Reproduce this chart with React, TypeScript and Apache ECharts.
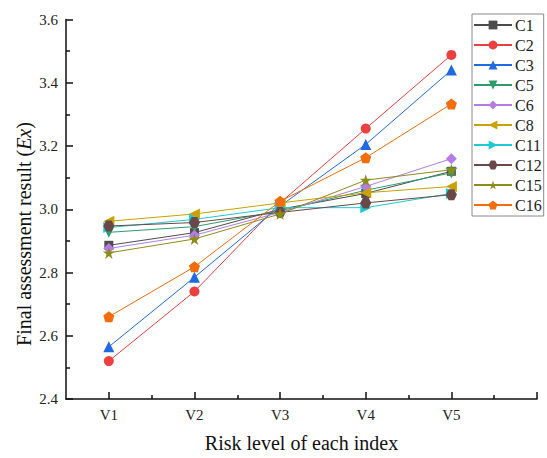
import React, { useEffect, useRef } from "react";
import * as echarts from "echarts";

const levels = ["V1", "V2", "V3", "V4", "V5"];
const seriesNames = ["C1", "C2", "C3", "C5", "C6", "C8", "C11", "C12", "C15", "C16"];

const c1 = [2.886, 2.926, 3.0, 3.05, 3.12];
const c2 = [2.52, 2.74, 3.02, 3.255, 3.488];
const c3 = [2.565, 2.785, 3.01, 3.205, 3.44];
const c5 = [2.927, 2.945, 2.995, 3.06, 3.115];
const c6 = [2.876, 2.918, 2.99, 3.072, 3.16];
const c8 = [2.962, 2.985, 3.02, 3.052, 3.072];
const c11 = [2.942, 2.968, 3.005, 3.005, 3.05];
const c12 = [2.947, 2.958, 2.99, 3.02, 3.046];
const c15 = [2.862, 2.906, 2.985, 3.092, 3.125];
const c16 = [2.66, 2.818, 3.025, 3.163, 3.333];

const values = [c1, c2, c3, c5, c6, c8, c11, c12, c15, c16];

const colors = ["#4d4d4d", "#ec3f3f", "#1f6ae0", "#2a9d6a", "#b57ce6", "#c9a100", "#1ccbd6", "#6b4848", "#8c8c1a", "#f36d0c"];

const yTicks = [2.4, 2.6, 2.8, 3.0, 3.2, 3.4, 3.6];

const PENT = "path://M0,-1L0.951,-0.309L0.588,0.809L-0.588,0.809L-0.951,-0.309Z";
const HEX = "path://M-0.5,-0.866L0.5,-0.866L1,0L0.5,0.866L-0.5,0.866L-1,0Z";
const STAR =
  "path://M0,-1L0.2245,-0.309L0.951,-0.309L0.363,0.118L0.588,0.809L0,0.382L-0.588,0.809L-0.363,0.118L-0.951,-0.309L-0.2245,-0.309Z";

const symbols = ["rect", "circle", "triangle", "triangle", "diamond", "triangle", "triangle", HEX, STAR, PENT];
const rotations = [0, 0, 0, 180, 0, 90, -90, 0, 0, 0];
const sizes = [9, 10, 11, 11, 11, 11, 11, 11, 12, 11];

const FONT = "Liberation Serif";

export default function App() {
  const ref = useRef<HTMLDivElement>(null);
  useEffect(() => {
    if (!ref.current) return;
    const chart = echarts.init(ref.current, undefined, { renderer: "svg" });
    const series = seriesNames.map((name, i) => ({
      name,
      type: "line",
      xAxisIndex: 0,
      yAxisIndex: 0,
      data: values[i].map((v, j) => [j + 1, v]),
      symbol: symbols[i],
      symbolRotate: rotations[i],
      symbolSize: sizes[i],
      showAllSymbol: true,
      lineStyle: { color: colors[i], width: 1 },
      itemStyle: { color: colors[i], borderWidth: 0 },
      emphasis: { disabled: true },
      z: 2 + i,
    }));
    chart.setOption({
      animation: false,
      grid: { left: 66, right: 10, top: 19.5, bottom: 58, containLabel: false },
      legend: {
        orient: "vertical",
        left: 472,
        top: 14,
        data: seriesNames,
        borderColor: "#8a8a8a",
        borderWidth: 1,
        padding: [3, 2, 3, 1],
        itemGap: 4,
        itemWidth: 38,
        itemHeight: 11,
        textStyle: { fontFamily: FONT, fontSize: 16, color: "#222", padding: [0, 0, 0, -2] },
      },
      graphic: [
        {
          type: "text",
          x: 24,
          y: 234,
          rotation: Math.PI / 2,
          style: {
            text: "{t|Final assessment result (}{i|Ex}{t|)}",
            align: "center",
            verticalAlign: "middle",
            fontFamily: FONT,
            fontSize: 20,
            fill: "#111",
            rich: {
              t: { fontFamily: FONT, fontSize: 20, fill: "#111", color: "#111" },
              i: { fontFamily: FONT, fontSize: 20, fontStyle: "italic", fill: "#111", color: "#111" },
            },
          },
        },
      ],
      xAxis: [
        {
          type: "value",
          min: 0.5,
          max: 6,
          position: "bottom",
          splitLine: { show: false },
          axisLine: { show: true, lineStyle: { color: "#111", width: 1.5 } },
          axisTick: {
            show: true,
            inside: true,
            length: 7,
            customValues: [1, 2, 3, 4, 5, 6],
            lineStyle: { color: "#111", width: 1.5 },
          },
          axisLabel: {
            customValues: [1, 2, 3, 4, 5],
            formatter: (v: number) => levels[Math.round(v) - 1] ?? "",
            fontFamily: FONT,
            fontSize: 15,
            color: "#222",
            margin: 8,
          },
          name: "Risk level of each index",
          nameLocation: "middle",
          nameGap: 34,
          nameTextStyle: { fontFamily: FONT, fontSize: 20, color: "#111" },
        },
        {
          type: "value",
          min: 0.5,
          max: 6,
          position: "bottom",
          offset: 0,
          splitLine: { show: false },
          axisLine: { show: false },
          axisTick: {
            show: true,
            inside: true,
            length: 4,
            customValues: [1.5, 2.5, 3.5, 4.5, 5.5],
            lineStyle: { color: "#111", width: 1.5 },
          },
          axisLabel: { show: false },
        },
      ],
      yAxis: {
        type: "value",
        min: 2.4,
        max: 3.6,
        interval: 0.2,
        splitLine: { show: false },
        axisLine: { show: true, lineStyle: { color: "#111", width: 1.5 } },
        axisTick: { show: true, inside: true, length: 7, lineStyle: { color: "#111", width: 1.5 } },
        minorTick: { show: true, splitNumber: 2, length: 4, lineStyle: { color: "#111", width: 1.5 } },
        axisLabel: {
          formatter: (v: number) => {
            const t = yTicks.find((x) => Math.abs(x - v) < 1e-6);
            return (t ?? v).toFixed(1);
          },
          fontFamily: FONT,
          fontSize: 15,
          color: "#222",
          margin: 8,
        },
      },
      series,
    });
    return () => chart.dispose();
  }, []);
  return <div ref={ref} style={{ width: 547, height: 458, position: "absolute", left: 0, top: 0 }} />;
}
